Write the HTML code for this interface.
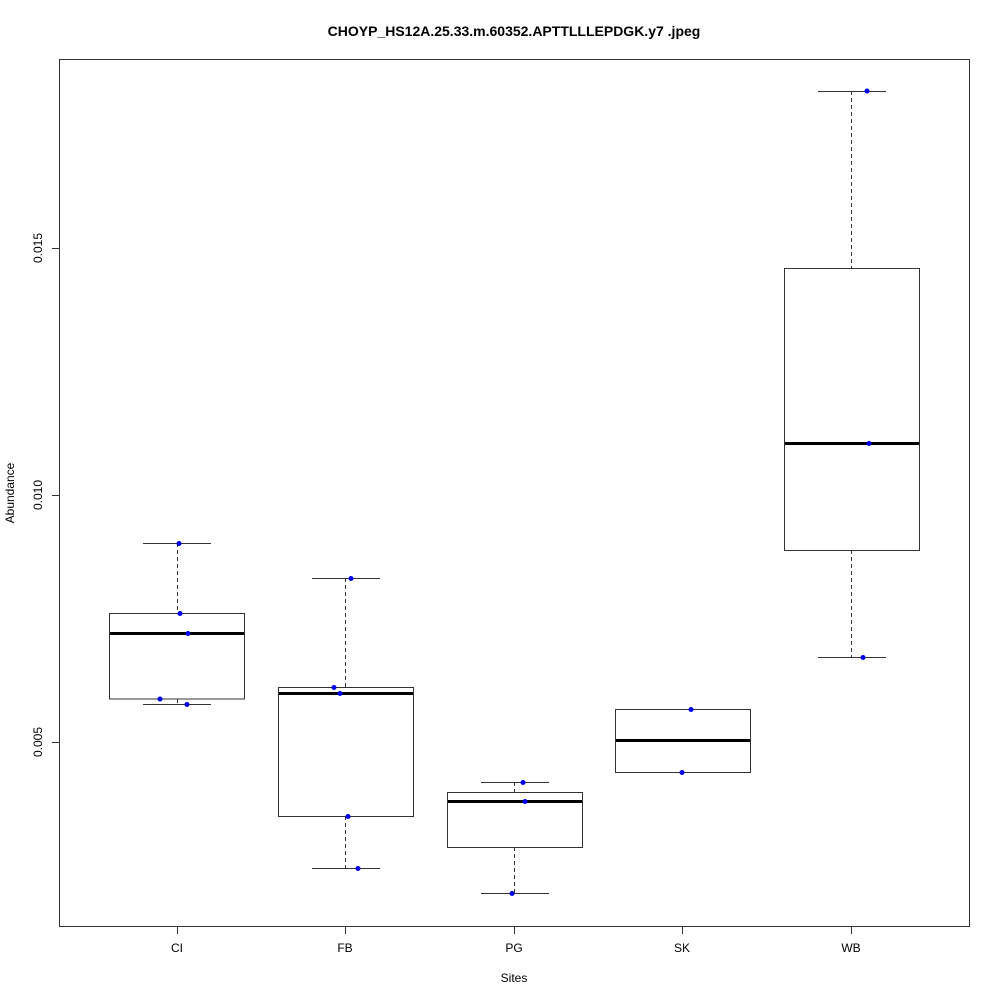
<!DOCTYPE html>
<html><head><style>body{margin:0;background:#fff}</style></head><body>
<svg width="1000" height="1000" xmlns="http://www.w3.org/2000/svg" font-family="Liberation Sans, sans-serif">
<rect width="1000" height="1000" fill="#fff"/>
<text x="514" y="36" text-anchor="middle" font-size="14" font-weight="bold">CHOYP_HS12A.25.33.m.60352.APTTLLLEPDGK.y7 .jpeg</text>
<rect x="59.5" y="59.5" width="910" height="867" fill="none" stroke="#333" stroke-width="1"/>
<g stroke="#333">
<line x1="52" y1="248.5" x2="59" y2="248.5"/><line x1="52" y1="495.5" x2="59" y2="495.5"/><line x1="52" y1="742.5" x2="59" y2="742.5"/>
<line x1="177.5" y1="927" x2="177.5" y2="934"/><line x1="345.5" y1="927" x2="345.5" y2="934"/><line x1="514.5" y1="927" x2="514.5" y2="934"/><line x1="682.5" y1="927" x2="682.5" y2="934"/><line x1="851.5" y1="927" x2="851.5" y2="934"/>
</g>
<g font-size="12" text-anchor="middle">
<text transform="translate(42,248) rotate(-90)">0.015</text>
<text transform="translate(42,495) rotate(-90)">0.010</text>
<text transform="translate(42,742) rotate(-90)">0.005</text>
<text x="177" y="952">CI</text><text x="345" y="952">FB</text><text x="514" y="952">PG</text><text x="682" y="952">SK</text><text x="851" y="952">WB</text>
<text x="514" y="982">Sites</text>
<text transform="translate(14,493) rotate(-90)">Abundance</text>
</g>
<g stroke="#333" fill="none">
<!-- CI -->
<line x1="177.5" y1="543" x2="177.5" y2="613" stroke-dasharray="4,3"/><line x1="177.5" y1="699" x2="177.5" y2="704" stroke-dasharray="4,3"/>
<line x1="143" y1="543.5" x2="211" y2="543.5"/><line x1="143" y1="704.5" x2="211" y2="704.5"/>
<rect x="109.5" y="613.5" width="135" height="85.5"/>
<!-- FB -->
<line x1="345.5" y1="578" x2="345.5" y2="687" stroke-dasharray="4,3"/><line x1="345.5" y1="816" x2="345.5" y2="868" stroke-dasharray="4,3"/>
<line x1="312" y1="578.5" x2="380" y2="578.5"/><line x1="312" y1="868.5" x2="380" y2="868.5"/>
<rect x="278.5" y="687.5" width="135" height="129"/>
<!-- PG -->
<line x1="514.5" y1="782" x2="514.5" y2="792" stroke-dasharray="4,3"/><line x1="514.5" y1="847" x2="514.5" y2="893" stroke-dasharray="4,3"/>
<line x1="481" y1="782.5" x2="549" y2="782.5"/><line x1="481" y1="893.5" x2="549" y2="893.5"/>
<rect x="447.5" y="792.5" width="135" height="55"/>
<!-- SK -->
<line x1="649" y1="709.5" x2="717" y2="709.5"/><line x1="649" y1="772.5" x2="717" y2="772.5"/>
<rect x="615.5" y="709.5" width="135" height="63"/>
<!-- WB -->
<line x1="851.5" y1="91" x2="851.5" y2="268" stroke-dasharray="4,3"/><line x1="851.5" y1="550" x2="851.5" y2="657" stroke-dasharray="4,3"/>
<line x1="818" y1="91.5" x2="886" y2="91.5"/><line x1="818" y1="657.5" x2="886" y2="657.5"/>
<rect x="784.5" y="268.5" width="135" height="282"/>
</g>
<g stroke="#000" stroke-width="3">
<line x1="110" y1="633.5" x2="244" y2="633.5"/>
<line x1="279" y1="693.5" x2="413" y2="693.5"/>
<line x1="448" y1="801.5" x2="582" y2="801.5"/>
<line x1="616" y1="740.5" x2="750" y2="740.5"/>
<line x1="785" y1="443.5" x2="919" y2="443.5"/>
</g>
<g fill="#0000ee">
<circle cx="179" cy="543.5" r="2.5"/><circle cx="180" cy="613.5" r="2.5"/><circle cx="188" cy="633.5" r="2.5"/><circle cx="160" cy="699" r="2.5"/><circle cx="187" cy="704.5" r="2.5"/>
<circle cx="351" cy="578.5" r="2.5"/><circle cx="334" cy="687.5" r="2.5"/><circle cx="340" cy="693.5" r="2.5"/><circle cx="348" cy="816.5" r="2.5"/><circle cx="358" cy="868.5" r="2.5"/>
<circle cx="523" cy="782.5" r="2.5"/><circle cx="525" cy="801.5" r="2.5"/><circle cx="512" cy="893.5" r="2.5"/>
<circle cx="691" cy="709.5" r="2.5"/><circle cx="682" cy="772.5" r="2.5"/>
<circle cx="867" cy="91" r="2.5"/><circle cx="869" cy="443.5" r="2.5"/><circle cx="863" cy="657.5" r="2.5"/>
</g>
</svg>
</body></html>
